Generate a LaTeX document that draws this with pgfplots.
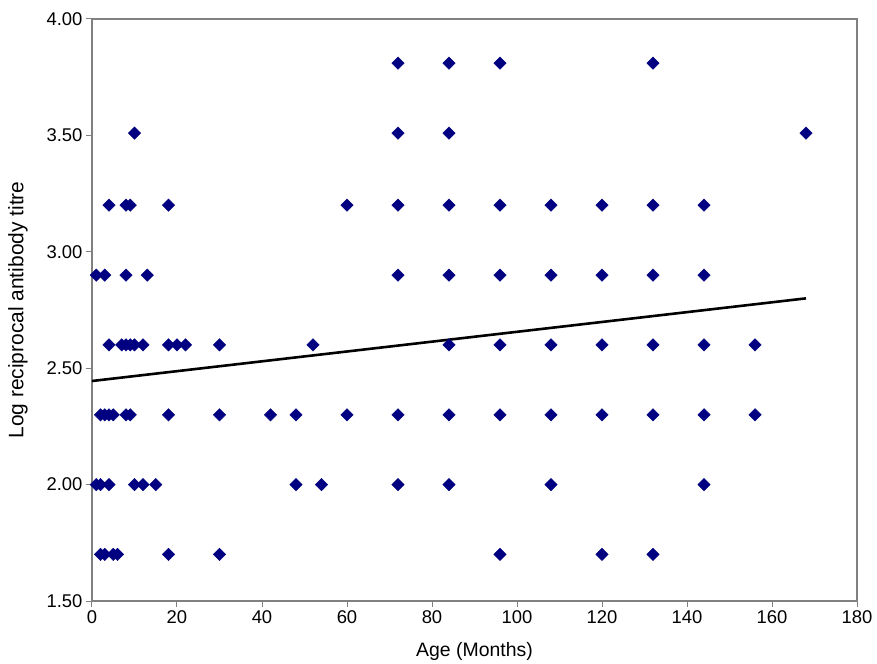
\documentclass[border=0pt]{standalone}
\usepackage{pgfplots}
\pgfplotsset{compat=1.18}
\usepackage{fontspec}
\setmainfont{Liberation Sans}
\definecolor{navyc}{RGB}{0,0,128}
\definecolor{axgray}{RGB}{128,128,128}
\begin{document}
\begin{tikzpicture}
\begin{axis}[
  scale only axis,
  width=765bp, height=582bp,
  xmin=0, xmax=180, ymin=1.5, ymax=4.0,
  xtick={0,20,...,180},
  ytick={1.5,2.0,2.5,3.0,3.5,4.0},
  yticklabel style={/pgf/number format/.cd, fixed, fixed zerofill, precision=2},
  /pgf/number format/assume math mode=true,
  tick label style={font=\fontsize{18.5}{20}\selectfont, black},
  xlabel={Age (Months)},
  ylabel={Log reciprocal antibody titre},
  xlabel style={at={(axis description cs:0.5,-0.0859)}, anchor=center, font=\fontsize{19.5}{22}\selectfont},
  ylabel style={at={(axis description cs:-0.0967,0.5)}, anchor=center, font=\fontsize{21}{23}\selectfont},
  axis line style={axgray, line width=1.2bp},
  tick style={axgray, line width=1bp},
  tick align=outside,
  major tick length=6bp,
  xtick pos=bottom, ytick pos=left,
  clip=false,
]
\addplot[only marks, mark=square*, mark size=4.4bp,
  mark options={rotate=45, fill=navyc, draw=navyc}] table {
x y
72 3.81
84 3.81
96 3.81
132 3.81
10 3.51
72 3.51
84 3.51
168 3.51
4 3.20
8 3.20
9 3.20
18 3.20
60 3.20
72 3.20
84 3.20
96 3.20
108 3.20
120 3.20
132 3.20
144 3.20
1 2.90
3 2.90
8 2.90
13 2.90
72 2.90
84 2.90
96 2.90
108 2.90
120 2.90
132 2.90
144 2.90
4 2.60
7 2.60
8 2.60
9 2.60
10 2.60
12 2.60
18 2.60
20 2.60
22 2.60
30 2.60
52 2.60
84 2.60
96 2.60
108 2.60
120 2.60
132 2.60
144 2.60
156 2.60
2 2.30
3 2.30
4 2.30
5 2.30
8 2.30
9 2.30
18 2.30
30 2.30
42 2.30
48 2.30
60 2.30
72 2.30
84 2.30
96 2.30
108 2.30
120 2.30
132 2.30
144 2.30
156 2.30
1 2.00
2 2.00
4 2.00
10 2.00
12 2.00
15 2.00
48 2.00
54 2.00
72 2.00
84 2.00
108 2.00
144 2.00
2 1.70
3 1.70
5 1.70
6 1.70
18 1.70
30 1.70
96 1.70
120 1.70
132 1.70
};
\addplot[black, line width=2.6bp] coordinates {(0,2.445) (168,2.80)};
\end{axis}
\pgfresetboundingbox
\path (-92bp,-63bp) rectangle (785bp,601bp);
\end{tikzpicture}
\end{document}
